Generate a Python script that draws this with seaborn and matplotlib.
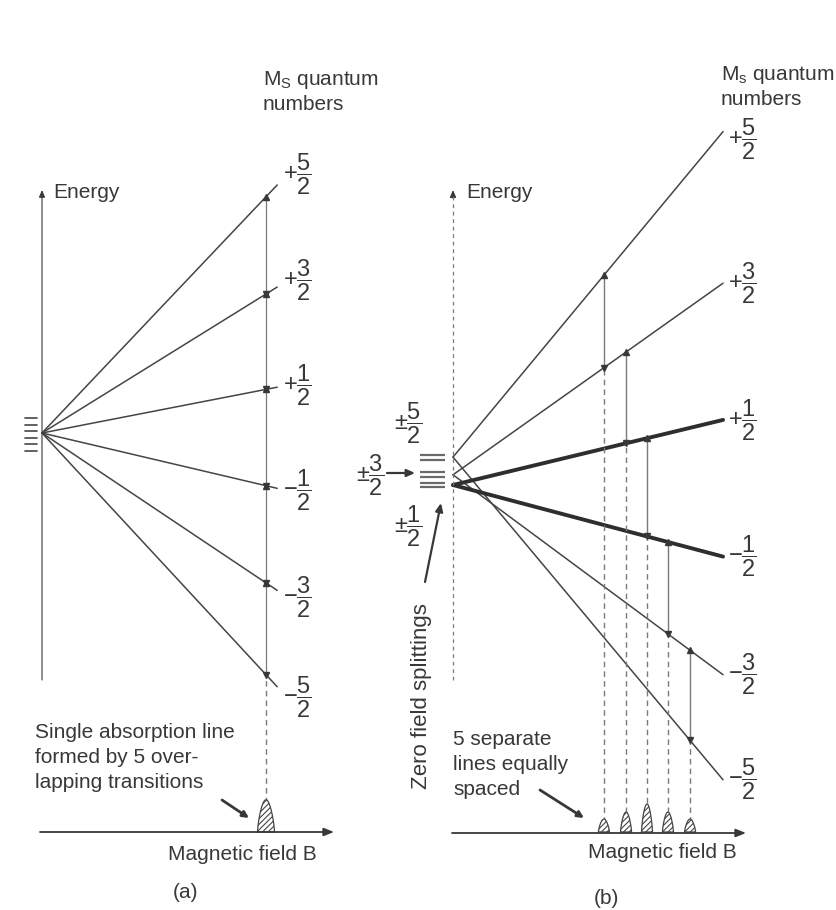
import numpy as np
import pandas as pd
import matplotlib
matplotlib.use("Agg")
import matplotlib.pyplot as plt
import matplotlib.transforms as mtransforms
import seaborn as sns

# ---- level data -------------------------------------------------------------
# M_s labels, top to bottom
ms_sign = ["+", "+", "+", "-", "-", "-"]
ms_num = ["5", "3", "1", "1", "3", "5"]

# (a) no zero field splitting: all levels start at E=0, B=0
a_field_end = 1.05
a_energy_end = [2.60, 1.53, 0.48, -0.58, -1.65, -2.66]
a_resonance = 1.0          # all 5 transitions at the same field
a_peak_height = 1.15       # relative intensity of the single (overlapped) line

# (b) with zero field splitting
b_zero_field = [0.30, 0.11, 0.0]            # +-5/2, +-3/2, +-1/2
b_energy_start = [0.30, 0.11, 0.0, 0.0, 0.11, 0.30]
b_field_end = 1.392
b_energy_end = [3.80, 2.17, 0.70, -0.77, -2.04, -3.17]
b_resonances = [0.778, 0.892, 1.0, 1.108, 1.222]
b_pairs = [(1, 0), (2, 1), (3, 2), (4, 3), (5, 4)]   # (lower level, upper level)
b_peak_heights = [0.46, 0.71, 1.0, 0.71, 0.46]

# ---- layout (pixels of the 837x910 picture) --------------------------------
W, H = 837, 910
A_OX, A_OY, A_SX, A_SY = 42, 433, 224, 95.4
B_OX, B_OY, B_SX, B_SY = 453, 485, 194, 93
SPLIT = 418
BASE_Y = 832
PEAK_PX = 28

INK = "#383838"
LINE = "#454545"
LIGHT = "#7a7a7a"

sns.set_theme(style="white")
plt.rcParams["font.family"] = ["Liberation Sans", "DejaVu Sans"]
plt.rcParams["mathtext.fontset"] = "custom"
plt.rcParams["mathtext.rm"] = "Liberation Sans"
plt.rcParams["mathtext.it"] = "Liberation Sans:italic"
plt.rcParams["mathtext.bf"] = "Liberation Sans:bold"
plt.rcParams["hatch.linewidth"] = 0.8

fig = plt.figure(figsize=(W / 100, H / 100), dpi=100)
fig.patch.set_facecolor("white")
px = mtransforms.Affine2D().scale(1 / W, -1 / H).translate(0, 1) + fig.transFigure

ax_a = fig.add_axes([0, 0, SPLIT / W, 1])
ax_b = fig.add_axes([SPLIT / W, 0, (W - SPLIT) / W, 1])


def set_limits():
    ax_a.set_xlim(-A_OX / A_SX, (SPLIT - A_OX) / A_SX)
    ax_a.set_ylim((A_OY - H) / A_SY, A_OY / A_SY)
    ax_b.set_xlim((SPLIT - B_OX) / B_SX, (W - B_OX) / B_SX)
    ax_b.set_ylim((B_OY - H) / B_SY, B_OY / B_SY)
    for ax in (ax_a, ax_b):
        ax.set_axis_off()


set_limits()

FS = 15
FS_FRAC = 17
txt = dict(transform=px, color=INK, fontsize=FS)


def arrow(x0, y0, x1, y1, lw=1.0, head="-|>,head_length=0.5,head_width=0.2"):
    fig.add_artist(matplotlib.patches.FancyArrowPatch(
        (x0, y0), (x1, y1), transform=px, arrowstyle=head,
        mutation_scale=12, lw=lw, color=INK, shrinkA=0, shrinkB=0))


def frac(sign, num):
    s = r"\pm" if sign == "pm" else sign
    return r"$%s\dfrac{%s}{2}$" % (s, num)


def draw_peak(ax, x0, h, half_w, base):
    u = np.linspace(-1, 1, 61)
    y = base + h * np.cos(u * np.pi / 2) ** 0.7
    ax.fill_between(x0 + u * half_w, base, y, facecolor="white",
                    edgecolor=LINE, hatch="//////", lw=0.9, zorder=3)


# ============================ panel (a) =====================================
rows = []
for i, e in enumerate(a_energy_end):
    rows.append({"B": 0.0, "E": 0.0, "level": i})
    rows.append({"B": a_field_end, "E": e, "level": i})
df_a = pd.DataFrame(rows)
sns.lineplot(data=df_a, x="B", y="E", units="level", estimator=None,
             color=LINE, linewidth=1.1, ax=ax_a, legend=False)

a_res_E = [np.interp(a_resonance, [0, a_field_end], [0, e]) for e in a_energy_end]
base_a = (A_OY - BASE_Y) / A_SY
ax_a.plot([a_resonance] * 2, [a_res_E[-1], a_res_E[0]], color=LIGHT, lw=0.9)
ax_a.plot([a_resonance] * 2, [base_a, a_res_E[-1]], color=LIGHT, lw=1.0,
          ls=(0, (4, 3)))
ax_a.plot([a_resonance] * 5, a_res_E[:5], "^", color=INK, ms=4)
ax_a.plot([a_resonance] * 5, a_res_E[1:], "v", color=INK, ms=4)
draw_peak(ax_a, a_resonance, a_peak_height * PEAK_PX / A_SY, 8.5 / A_SX, base_a)

for i, e in enumerate(a_energy_end):
    ext = e + e / a_field_end * 0.045
    ax_a.annotate(frac(ms_sign[i], ms_num[i]), xy=(a_field_end, ext),
                  xytext=(6, 0), textcoords="offset pixels",
                  ha="left", va="center", color=INK, fontsize=FS_FRAC)

# degenerate zero-field level marks
for k in range(6):
    y = 418 + k * 6.5
    fig.add_artist(matplotlib.lines.Line2D([25, 37], [y, y], transform=px,
                                           color=LINE, lw=1.2))

arrow(42, 680, 42, 190, lw=0.8, head="-|>,head_length=0.35,head_width=0.15")
arrow(40, BASE_Y, 334, BASE_Y, lw=1.3)

fig.text(53, 198, "Energy", **txt)
fig.text(263, 85, r"M$_\mathrm{S}$ quantum", **txt)
fig.text(263, 110, "numbers", **txt)
for j, s in enumerate(["Single absorption line", "formed by 5 over-",
                       "lapping transitions"]):
    fig.text(35, 738 + 25 * j, s, **txt)
arrow(222, 800, 249, 818, lw=2.0, head="-|>,head_length=0.3,head_width=0.15")
fig.text(168, 860, "Magnetic field B", **txt)
fig.text(186, 893, "(a)", ha="center", va="center", **txt)

# ============================ panel (b) =====================================
rows = []
for i in range(6):
    rows.append({"B": 0.0, "E": b_energy_start[i], "level": i})
    rows.append({"B": b_field_end, "E": b_energy_end[i], "level": i})
df_b = pd.DataFrame(rows)
thin = df_b[df_b["level"].isin([0, 1, 4, 5])]
thick = df_b[df_b["level"].isin([2, 3])]
sns.lineplot(data=thin, x="B", y="E", units="level", estimator=None,
             color=LINE, linewidth=1.1, ax=ax_b, legend=False)
sns.lineplot(data=thick, x="B", y="E", units="level", estimator=None,
             color="#2e2e2e", linewidth=2.8, ax=ax_b, legend=False)

base_b = (B_OY - BASE_Y) / B_SY


def level_at(i, b):
    return np.interp(b, [0, b_field_end], [b_energy_start[i], b_energy_end[i]])


for k, b in enumerate(b_resonances):
    lo, up = b_pairs[k]
    e_lo, e_up = level_at(lo, b), level_at(up, b)
    ax_b.plot([b, b], [e_lo, e_up], color=LIGHT, lw=1.0)
    ax_b.plot([b, b], [base_b, e_lo], color=LIGHT, lw=1.0, ls=(0, (4, 3)))
    ax_b.plot([b], [e_up], "^", color=INK, ms=4.5)
    ax_b.plot([b], [e_lo], "v", color=INK, ms=4.5)
    draw_peak(ax_b, b, b_peak_heights[k] * PEAK_PX / B_SY, 5.5 / B_SX, base_b)

for i, e in enumerate(b_energy_end):
    dy = 8 if i == 0 else 0
    ax_b.annotate(frac(ms_sign[i], ms_num[i]), xy=(b_field_end, e),
                  xytext=(5, -dy), textcoords="offset pixels",
                  ha="left", va="center", color=INK, fontsize=FS_FRAC)

# zero-field split levels (Kramers doublets)
for e0 in b_zero_field:
    for d in (-2.4, 2.4):
        ax_b.plot([(420 - B_OX) / B_SX, (445 - B_OX) / B_SX],
                  [e0 + d / B_SY] * 2, color="#6a6a6a", lw=1.6,
                  solid_capstyle="butt", clip_on=False)

fig.add_artist(matplotlib.lines.Line2D([453, 453], [680, 196], transform=px,
                                       color=LIGHT, lw=0.9, ls=(0, (3, 3))))
arrow(453, 198, 453, 190, lw=0.9, head="-|>,head_length=0.35,head_width=0.15")
arrow(452, BASE_Y + 1, 746, BASE_Y + 1, lw=1.3)

fig.text(408, 423, frac("pm", "5"), ha="center", va="center",
         transform=px, color=INK, fontsize=FS_FRAC)
fig.text(370, 475, frac("pm", "3"), ha="center", va="center",
         transform=px, color=INK, fontsize=FS_FRAC)
fig.text(408, 526, frac("pm", "1"), ha="center", va="center",
         transform=px, color=INK, fontsize=FS_FRAC)
arrow(387, 473, 415, 473, lw=1.6, head="-|>,head_length=0.4,head_width=0.18")
arrow(425, 582, 441, 503, lw=1.6, head="-|>,head_length=0.4,head_width=0.18")
fig.text(422, 696, "Zero field splittings", rotation=90, ha="center",
         va="center", transform=px, color=INK, fontsize=16)

fig.text(466, 198, "Energy", **txt)
fig.text(721, 80, r"M$_\mathrm{s}$ quantum", **txt)
fig.text(721, 105, "numbers", **txt)
for j, s in enumerate(["5 separate", "lines equally", "spaced"]):
    fig.text(453, 745 + 25 * j, s, **txt)
arrow(540, 790, 584, 818, lw=2.0, head="-|>,head_length=0.3,head_width=0.15")
fig.text(588, 858, "Magnetic field B", **txt)
fig.text(606, 898, "(b)", ha="center", va="center", **txt)

set_limits()
fig.savefig("out.png", dpi=100, facecolor="white")
